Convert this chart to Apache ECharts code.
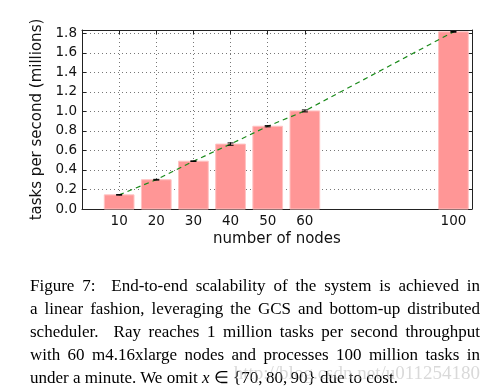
<!DOCTYPE html>
<html><head><meta charset="utf-8">
<script src="https://cdn.jsdelivr.net/npm/echarts@6/dist/echarts.min.js"></script>
<style>
html,body{margin:0;padding:0;background:#fff;}
#wrap{position:relative;width:492px;height:392px;overflow:hidden;}
#chart{position:absolute;left:0;top:0;width:492px;height:392px;}
#cap{position:absolute;left:30px;top:274px;width:450px;font-family:"Liberation Serif","Times New Roman",serif;font-size:17px;line-height:23px;color:#000;}
#cap div{text-align:justify;text-align-last:justify;white-space:nowrap;}
#cap div.last{text-align-last:left;}
#wm{position:absolute;right:12px;top:362px;font-family:"Liberation Serif",serif;font-size:19px;color:rgba(170,170,170,0.45);white-space:nowrap;}
</style></head>
<body><div id="wrap"><div id="chart"></div>
<div id="cap">
<div>Figure 7:&nbsp; End-to-end scalability of the system is achieved in</div>
<div>a linear fashion, leveraging the GCS and bottom-up distributed</div>
<div>scheduler.&nbsp; Ray reaches 1 million tasks per second throughput</div>
<div>with 60 m4.16xlarge nodes and processes 100 million tasks in</div>
<div class="last">under a minute. We omit <i>x</i> ∈ {70,&thinsp;80,&thinsp;90} due to cost.</div>
</div>
<div id="wm">http://blog.csdn.net/u011254180</div>
</div>
<script>
const nodes = [10, 20, 30, 40, 50, 60, 100];
const throughput = [0.145, 0.300, 0.490, 0.665, 0.848, 1.005, 1.815];
const errors = [0.003, 0.004, 0.003, 0.012, 0.006, 0.010, 0.004];
const xTicks = [10, 20, 30, 40, 50, 60, 100];
const barWidthUnits = 8;

const chart = echarts.init(document.getElementById('chart'));
const font = 'DejaVu Sans';
const grid = {left: 82, top: 30, right: 20, bottom: 183};
const gridLine = {show: true, lineStyle: {color: '#777', type: [1, 3], width: 1}};
const frame = {show: true, onZero: false, lineStyle: {color: '#222', width: 1}};
const tick = {show: true, inside: true, length: 4, lineStyle: {color: '#222'}};

const barData = nodes.map((n, i) => [n, throughput[i]]);
const errData = nodes.map((n, i) => [n, throughput[i] - errors[i], throughput[i] + errors[i]]);

chart.setOption({
  animation: false,
  grid: grid,
  xAxis: [{
    type: 'value', min: 0, max: 105, position: 'bottom',
    name: 'number of nodes', nameLocation: 'middle', nameGap: 23,
    nameTextStyle: {fontFamily: font, fontSize: 15, color: '#111'},
    axisLine: frame,
    axisTick: Object.assign({}, tick, {customValues: xTicks}),
    axisLabel: {customValues: xTicks, fontFamily: font, fontSize: 13.5, color: '#111', margin: 5},
    splitLine: gridLine
  }, {
    type: 'value', min: 0, max: 105, position: 'top',
    axisLine: frame,
    axisTick: Object.assign({}, tick, {customValues: xTicks}),
    axisLabel: {show: false},
    splitLine: {show: false}
  }],
  yAxis: [{
    type: 'value', min: 0, max: 1.834, interval: 0.2, position: 'left',
    name: 'tasks per second (millions)', nameLocation: 'middle', nameGap: 32,
    nameTextStyle: {fontFamily: font, fontSize: 15, color: '#111'},
    axisLine: frame, axisTick: tick,
    axisLabel: {fontFamily: font, fontSize: 13.5, color: '#111', margin: 5, showMaxLabel: false,
      formatter: v => v.toFixed(1)},
    splitLine: gridLine
  }, {
    type: 'value', min: 0, max: 1.834, interval: 0.2, position: 'right',
    axisLine: frame, axisTick: tick,
    axisLabel: {show: false}, splitLine: {show: false}
  }],
  series: [{
    type: 'custom', xAxisIndex: 0, yAxisIndex: 0, z: 2,
    data: barData,
    renderItem: function (params, api) {
      const x = api.value(0), y = api.value(1);
      const p0 = api.coord([x - barWidthUnits / 2, y]);
      const p1 = api.coord([x + barWidthUnits / 2, 0]);
      return {type: 'rect', shape: {x: p0[0], y: p0[1], width: p1[0] - p0[0], height: p1[1] - p0[1]},
        style: {fill: '#ff9696', stroke: '#ffc2c2', lineWidth: 1}};
    }
  }, {
    type: 'line', xAxisIndex: 0, yAxisIndex: 0, z: 3,
    data: barData, symbol: 'none',
    lineStyle: {color: '#1a8a1a', width: 1.2, type: [5, 4]}
  }, {
    type: 'custom', xAxisIndex: 0, yAxisIndex: 0, z: 4,
    data: errData,
    renderItem: function (params, api) {
      const x = api.value(0);
      const lo = api.coord([x, api.value(1)]);
      const hi = api.coord([x, api.value(2)]);
      const c = 3;
      const st = {stroke: '#000', lineWidth: 1};
      return {type: 'group', children: [
        {type: 'line', shape: {x1: lo[0], y1: lo[1], x2: hi[0], y2: hi[1]}, style: st},
        {type: 'line', shape: {x1: lo[0] - c, y1: lo[1], x2: lo[0] + c, y2: lo[1]}, style: st},
        {type: 'line', shape: {x1: hi[0] - c, y1: hi[1], x2: hi[0] + c, y2: hi[1]}, style: st}
      ]};
    }
  }]
});
</script>
</body></html>
